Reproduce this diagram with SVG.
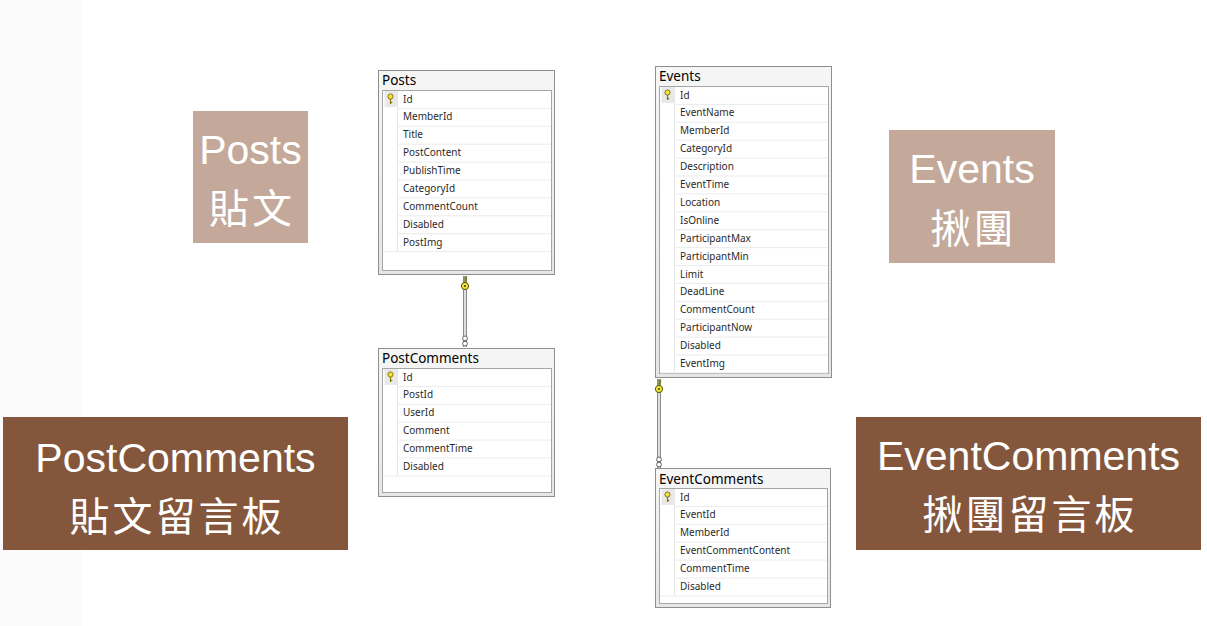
<svg xmlns="http://www.w3.org/2000/svg" width="1207" height="626" viewBox="0 0 1207 626">
<style>
.lbl{font-family:"Liberation Sans",Arial,sans-serif;font-size:41px;fill:#ffffff;text-anchor:middle}
.cjk{font-family:"Noto Sans CJK TC","Noto Sans CJK SC",sans-serif;font-size:40px;fill:#ffffff;text-anchor:middle;letter-spacing:3px}
.light{fill:#c4a99a}
.dark{fill:#84573c}
.tbl{fill:#ececec;stroke:#8e8e8e;stroke-width:1}
.inner{fill:#ffffff;stroke:#a6a6a6;stroke-width:1}
.ttl{font-family:"Noto Sans","Open Sans",sans-serif;font-size:13.5px;fill:#000000}
.fld{font-family:"Noto Sans","Open Sans",sans-serif;font-size:10px;fill:#2a2a2a}
.sep{stroke:#ebebeb;stroke-width:1}
.col{stroke:#e6e6e6;stroke-width:1}
.keycell{fill:#e9e9e9}
.keyhead{fill:#f2e23a;stroke:#6a5a00;stroke-width:0.8}
.keyshaft{stroke:#8a7400;stroke-width:1.2}
.lnout{stroke:#8a8a8a;stroke-width:4;fill:none}
.lnin{stroke:#f4f4f4;stroke-width:1.6;fill:none}
.inf{fill:#ffffff;stroke:#555555;stroke-width:0.9}
.ckey{fill:#f3e53a;stroke:#555500;stroke-width:1}
</style>
<defs>
<linearGradient id="tg" x1="0" y1="0" x2="0" y2="1">
<stop offset="0" stop-color="#f6f6f6"/>
<stop offset="1" stop-color="#e6e6e6"/>
</linearGradient>
<g id="rowkey">
<rect class="keycell" x="-6" y="-8" width="13" height="16"/>
<circle class="keyhead" cx="0" cy="-2.5" r="2.6"/>
<line class="keyshaft" x1="0" y1="0" x2="0" y2="5"/>
<line class="keyshaft" x1="0" y1="3.5" x2="1.8" y2="3.5"/>
</g>
<g id="ckeysym">
<line x1="0" y1="-8" x2="0" y2="0" stroke="#6a6a00" stroke-width="1.2"/>
<line x1="0" y1="-6" x2="2.2" y2="-6" stroke="#6a6a00" stroke-width="1"/>
<line x1="0" y1="-4" x2="2" y2="-4" stroke="#6a6a00" stroke-width="1"/>
<circle class="ckey" cx="0" cy="2" r="3.6"/>
<circle cx="0" cy="2" r="1" fill="#333300"/>
</g>
<g id="infsym">
<circle class="inf" cx="0" cy="-2.6" r="2.4"/>
<circle class="inf" cx="0" cy="2.6" r="2.4"/>
</g>
</defs>
<rect x="0" y="0" width="1207" height="626" fill="#ffffff"/>
<rect x="0" y="0" width="82" height="626" fill="#fbfbfb"/>

<g id="label-posts">
<rect class="light" x="193" y="111" width="115" height="132"/>
<text class="lbl" x="250.5" y="164">Posts</text>
<text class="cjk" x="252" y="223">貼文</text>
</g>
<g id="label-postcomments">
<rect class="dark" x="3" y="417" width="345" height="133"/>
<text class="lbl" x="175.5" y="472">PostComments</text>
<text class="cjk" x="177" y="531">貼文留言板</text>
</g>
<g id="label-events">
<rect class="light" x="889" y="130" width="166" height="133"/>
<text class="lbl" x="972" y="183">Events</text>
<text class="cjk" x="973.5" y="243">揪團</text>
</g>
<g id="label-eventcomments">
<rect class="dark" x="856" y="417" width="345" height="133"/>
<text class="lbl" x="1028.5" y="470">EventComments</text>
<text class="cjk" x="1030" y="529">揪團留言板</text>
</g>

<g id="connectors">
<g id="conn-posts-postcomments">
<line class="lnout" x1="465" y1="276" x2="465" y2="347"/>
<line class="lnin" x1="465" y1="276" x2="465" y2="347"/>
<use href="#ckeysym" x="465" y="284"/>
<use href="#infsym" x="465" y="341"/>
</g>
<g id="conn-events-eventcomments">
<line class="lnout" x1="659" y1="379" x2="659" y2="468"/>
<line class="lnin" x1="659" y1="379" x2="659" y2="468"/>
<use href="#ckeysym" x="659" y="387"/>
<use href="#infsym" x="659" y="462"/>
</g>
</g>

<g id="table-posts">
<rect class="tbl" x="378.5" y="70.5" width="176" height="204" style="fill:url(#tg)"/>
<text class="ttl" x="382" y="85">Posts</text>
<rect class="inner" x="382.5" y="90.5" width="169" height="180"/>
<use href="#rowkey" x="390.5" y="99"/>
<line class="col" x1="397.5" y1="91" x2="397.5" y2="251"/>
<g class="sep">
<line x1="397" y1="108.4" x2="551" y2="108.4"/>
<line x1="397" y1="126.3" x2="551" y2="126.3"/>
<line x1="397" y1="144.2" x2="551" y2="144.2"/>
<line x1="397" y1="162.1" x2="551" y2="162.1"/>
<line x1="397" y1="180" x2="551" y2="180"/>
<line x1="397" y1="197.9" x2="551" y2="197.9"/>
<line x1="397" y1="215.8" x2="551" y2="215.8"/>
<line x1="397" y1="233.7" x2="551" y2="233.7"/>
<line x1="383" y1="251.6" x2="551" y2="251.6"/>
</g>
<text class="fld" x="403" y="102.5">Id</text>
<text class="fld" x="403" y="120.4">MemberId</text>
<text class="fld" x="403" y="138.3">Title</text>
<text class="fld" x="403" y="156.2">PostContent</text>
<text class="fld" x="403" y="174.1">PublishTime</text>
<text class="fld" x="403" y="192">CategoryId</text>
<text class="fld" x="403" y="209.9">CommentCount</text>
<text class="fld" x="403" y="227.8">Disabled</text>
<text class="fld" x="403" y="245.7">PostImg</text>
</g>

<g id="table-postcomments">
<rect class="tbl" x="378.5" y="348.5" width="176" height="148" style="fill:url(#tg)"/>
<text class="ttl" x="382" y="363">PostComments</text>
<rect class="inner" x="382.5" y="368.5" width="169" height="124"/>
<use href="#rowkey" x="390.5" y="377"/>
<line class="col" x1="397.5" y1="369" x2="397.5" y2="475"/>
<g class="sep">
<line x1="397" y1="386.4" x2="551" y2="386.4"/>
<line x1="397" y1="404.3" x2="551" y2="404.3"/>
<line x1="397" y1="422.2" x2="551" y2="422.2"/>
<line x1="397" y1="440.1" x2="551" y2="440.1"/>
<line x1="397" y1="458" x2="551" y2="458"/>
<line x1="383" y1="475.9" x2="551" y2="475.9"/>
</g>
<text class="fld" x="403" y="380.5">Id</text>
<text class="fld" x="403" y="398.4">PostId</text>
<text class="fld" x="403" y="416.3">UserId</text>
<text class="fld" x="403" y="434.2">Comment</text>
<text class="fld" x="403" y="452.1">CommentTime</text>
<text class="fld" x="403" y="470">Disabled</text>
</g>

<g id="table-events">
<rect class="tbl" x="655.5" y="66.5" width="176" height="311" style="fill:url(#tg)"/>
<text class="ttl" x="659" y="81">Events</text>
<rect class="inner" x="659.5" y="86.5" width="169" height="287"/>
<use href="#rowkey" x="667.5" y="95"/>
<line class="col" x1="674.5" y1="87" x2="674.5" y2="372"/>
<g class="sep">
<line x1="674" y1="104.4" x2="828" y2="104.4"/>
<line x1="674" y1="122.3" x2="828" y2="122.3"/>
<line x1="674" y1="140.2" x2="828" y2="140.2"/>
<line x1="674" y1="158.1" x2="828" y2="158.1"/>
<line x1="674" y1="176" x2="828" y2="176"/>
<line x1="674" y1="193.9" x2="828" y2="193.9"/>
<line x1="674" y1="211.8" x2="828" y2="211.8"/>
<line x1="674" y1="229.7" x2="828" y2="229.7"/>
<line x1="674" y1="247.6" x2="828" y2="247.6"/>
<line x1="674" y1="265.5" x2="828" y2="265.5"/>
<line x1="674" y1="283.4" x2="828" y2="283.4"/>
<line x1="674" y1="301.3" x2="828" y2="301.3"/>
<line x1="674" y1="319.2" x2="828" y2="319.2"/>
<line x1="674" y1="337.1" x2="828" y2="337.1"/>
<line x1="674" y1="355" x2="828" y2="355"/>
<line x1="660" y1="372.9" x2="828" y2="372.9"/>
</g>
<text class="fld" x="680" y="98.5">Id</text>
<text class="fld" x="680" y="116.4">EventName</text>
<text class="fld" x="680" y="134.3">MemberId</text>
<text class="fld" x="680" y="152.2">CategoryId</text>
<text class="fld" x="680" y="170.1">Description</text>
<text class="fld" x="680" y="188">EventTime</text>
<text class="fld" x="680" y="205.9">Location</text>
<text class="fld" x="680" y="223.8">IsOnline</text>
<text class="fld" x="680" y="241.7">ParticipantMax</text>
<text class="fld" x="680" y="259.6">ParticipantMin</text>
<text class="fld" x="680" y="277.5">Limit</text>
<text class="fld" x="680" y="295.4">DeadLine</text>
<text class="fld" x="680" y="313.3">CommentCount</text>
<text class="fld" x="680" y="331.2">ParticipantNow</text>
<text class="fld" x="680" y="349.1">Disabled</text>
<text class="fld" x="680" y="367">EventImg</text>
</g>

<g id="table-eventcomments">
<rect class="tbl" x="655.5" y="468.5" width="175" height="139" style="fill:url(#tg)"/>
<text class="ttl" x="659" y="484">EventComments</text>
<rect class="inner" x="659.5" y="488.5" width="168" height="115"/>
<use href="#rowkey" x="667.5" y="497"/>
<line class="col" x1="674.5" y1="489" x2="674.5" y2="595"/>
<g class="sep">
<line x1="674" y1="506.4" x2="827" y2="506.4"/>
<line x1="674" y1="524.3" x2="827" y2="524.3"/>
<line x1="674" y1="542.2" x2="827" y2="542.2"/>
<line x1="674" y1="560.1" x2="827" y2="560.1"/>
<line x1="674" y1="578" x2="827" y2="578"/>
<line x1="660" y1="595.9" x2="827" y2="595.9"/>
</g>
<text class="fld" x="680" y="500.5">Id</text>
<text class="fld" x="680" y="518.4">EventId</text>
<text class="fld" x="680" y="536.3">MemberId</text>
<text class="fld" x="680" y="554.2">EventCommentContent</text>
<text class="fld" x="680" y="572.1">CommentTime</text>
<text class="fld" x="680" y="590">Disabled</text>
</g>
</svg>
